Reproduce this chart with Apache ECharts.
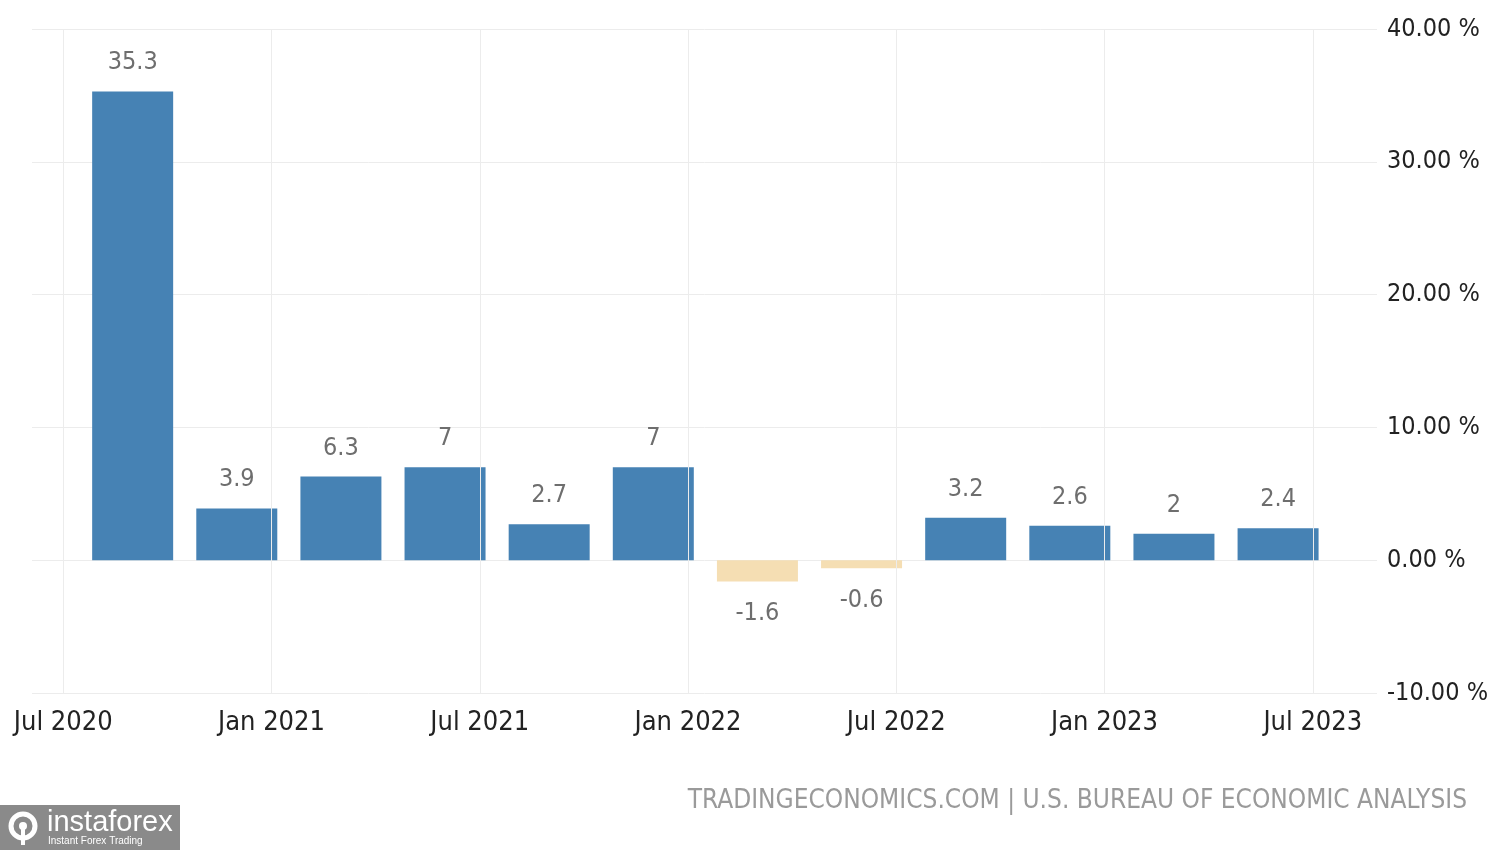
<!DOCTYPE html>
<html>
<head>
<meta charset="utf-8">
<script src="https://cdn.jsdelivr.net/npm/echarts@6/dist/echarts.min.js"></script>
<style>
html,body{margin:0;padding:0;background:#fff;}
#chart{width:1500px;height:850px;}
</style>
</head>
<body>
<div id="chart"></div>
<script>
// Quarterly GDP growth (annualized, %), US
const quarters = ['Q3 2020','Q4 2020','Q1 2021','Q2 2021','Q3 2021','Q4 2021','Q1 2022','Q2 2022','Q3 2022','Q4 2022','Q1 2023','Q2 2023'];
// position of each bar in months after Jul 2020 (as placed on the source chart)
const barMonths = [2, 5, 8, 11, 14, 17, 20, 23, 26, 29, 32, 35];
const gdpGrowth = [35.3, 3.9, 6.3, 7, 2.7, 7, -1.6, -0.6, 3.2, 2.6, 2, 2.4];
const tickMonths = [0, 6, 12, 18, 24, 30, 36];
const tickLabels = ['Jul 2020', 'Jan 2021', 'Jul 2021', 'Jan 2022', 'Jul 2022', 'Jan 2023', 'Jul 2023'];
const yTicks = [-10, 0, 10, 20, 30, 40];
const sourceText = 'TRADINGECONOMICS.COM | U.S. BUREAU OF ECONOMIC ANALYSIS';

const FONT = '"DejaVu Sans Condensed", "Liberation Sans Narrow", "DejaVu Sans", sans-serif';
const POS = '#4682B4', NEG = '#F5DEB3', GRID = '#ececec';

const chart = echarts.init(document.getElementById('chart'), null, {renderer: 'canvas'});
const data = barMonths.map((m, i) => {
  const v = gdpGrowth[i];
  return {
    name: quarters[i],
    value: [m, v],
    itemStyle: {color: v < 0 ? NEG : POS},
    label: v < 0 ? {position: 'bottom', distance: 20} : {position: 'top', distance: 16}
  };
});

chart.setOption({
  animation: false,
  backgroundColor: '#ffffff',
  grid: {left: 32, right: 123, top: 29, bottom: 157},
  xAxis: {
    type: 'value',
    min: -0.9,
    max: 37.85,
    axisLine: {show: false},
    splitLine: {show: false},
    axisTick: {show: true, customValues: tickMonths, length: 12, lineStyle: {color: GRID}},
    axisLabel: {
      customValues: tickMonths,
      formatter: v => tickLabels[tickMonths.indexOf(v)] || '',
      color: '#222', fontSize: 27, fontFamily: FONT, margin: 16
    }
  },
  yAxis: {
    type: 'value',
    position: 'right',
    min: -10, max: 40, interval: 10,
    axisLine: {show: false},
    axisTick: {show: false},
    splitLine: {show: true, lineStyle: {color: GRID, width: 1}},
    axisLabel: {
      formatter: v => yTicks.indexOf(v) >= 0 ? v.toFixed(2) + ' %' : '',
      color: '#222', fontSize: 25, fontFamily: FONT, margin: 10, padding: [3, 0, 0, 0]
    }
  },
  series: [{
    type: 'bar',
    barWidth: 81,
    data: data,
    label: {
      show: true,
      color: '#6e6e6e',
      fontSize: 25,
      fontFamily: FONT,
      formatter: p => String(p.value[1])
    },
    markLine: {
      silent: true,
      symbol: 'none',
      label: {show: false},
      lineStyle: {color: GRID, type: 'solid', width: 1},
      data: tickMonths.map(m => ({xAxis: m}))
    }
  }],
  graphic: [
    {
      type: 'text', right: 33, top: 788,
      style: {text: sourceText, fill: '#9a9a9a', fontSize: 26, fontFamily: FONT}
    },
    {
      type: 'group', left: 0, top: 805,
      children: [
        {type: 'rect', shape: {x: 0, y: 0, width: 180, height: 45}, style: {fill: '#8a8a8a'}},
        {type: 'circle', shape: {cx: 23, cy: 21, r: 12}, style: {fill: 'none', stroke: '#fff', lineWidth: 5}},
        {type: 'circle', shape: {cx: 23, cy: 21, r: 4}, style: {fill: '#fff'}},
        {type: 'rect', shape: {x: 21, y: 24, width: 4, height: 16}, style: {fill: '#fff'}},
        {type: 'text', x: 47, y: 3, style: {text: 'instaforex', fill: '#fff', fontSize: 29, fontFamily: '"Liberation Sans", Arial, sans-serif'}},
        {type: 'text', x: 48, y: 31, style: {text: 'Instant Forex Trading', fill: '#fff', fontSize: 10, fontFamily: '"Liberation Sans", Arial, sans-serif'}}
      ]
    }
  ]
});
</script>
</body>
</html>
